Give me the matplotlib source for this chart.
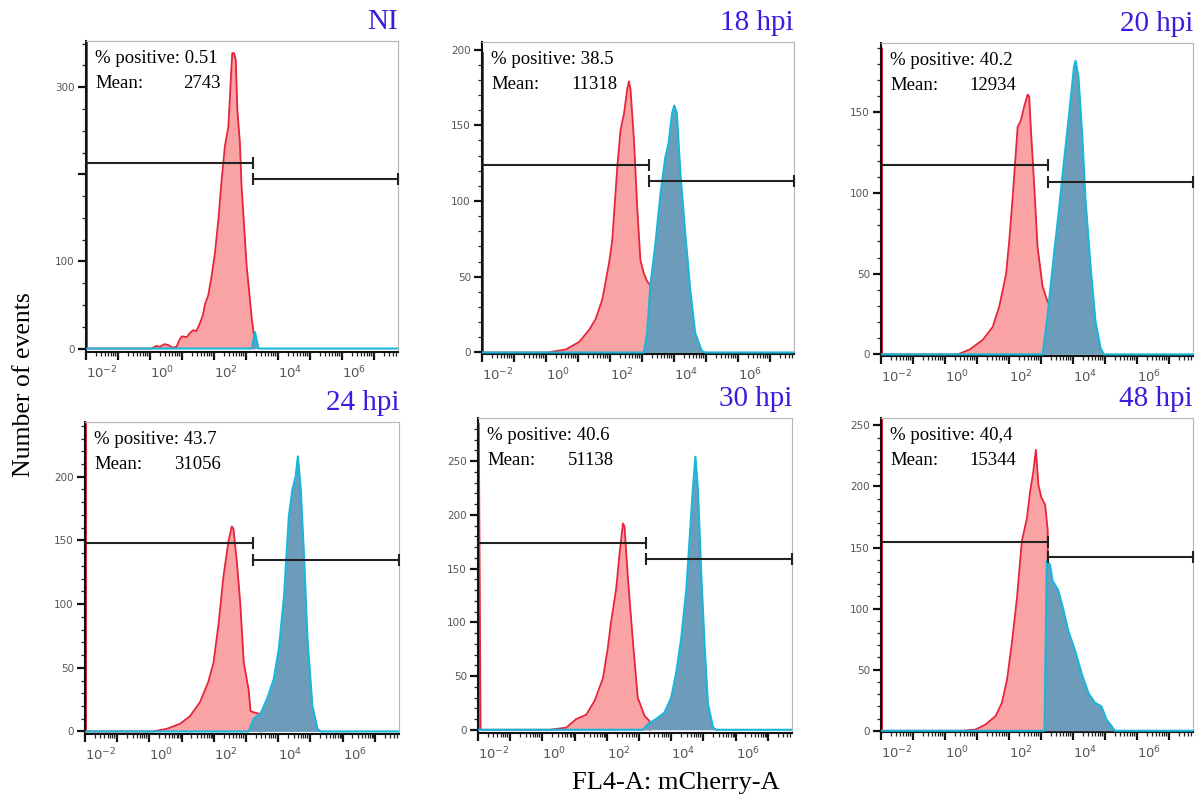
import numpy as np
import matplotlib
matplotlib.use('Agg')
import matplotlib.pyplot as plt

# panel names and summary stats
titles = ['NI', '18 hpi', '20 hpi', '24 hpi', '30 hpi', '48 hpi']
pct_positive = ['0.51', '38.5', '40.2', '43.7', '40.6', '40,4']
mean_values = ['2743', '11318', '12934', '31056', '51138', '15344']

# histograms: x is log10(FL4-A), y is number of events
red_x = [
    [-1.99, -1.98, -1.97, 0.05, 0.2, 0.31, 0.45, 0.57, 0.7, 0.83, 0.92, 1.0, 1.15, 1.25, 1.35, 1.45,
     1.56, 1.65, 1.72, 1.82, 1.93, 2.03, 2.14, 2.24, 2.34, 2.45, 2.52, 2.57, 2.63, 2.68, 2.73, 2.81,
     2.86, 2.94, 3.02, 3.10, 3.18, 3.25, 3.26],
    [-1.99, -1.98, -1.97, 0.05, 0.62, 1.04, 1.35, 1.55, 1.76, 1.97, 2.07, 2.23, 2.33, 2.44, 2.54, 2.59,
     2.64, 2.75, 2.85, 2.95, 3.06, 3.16, 3.23, 3.30, 3.31],
    [-1.99, -1.98, -1.97, 0.40, 0.77, 1.18, 1.49, 1.70, 1.91, 2.01, 2.11, 2.27, 2.37, 2.48, 2.58, 2.63,
     2.68, 2.79, 2.89, 3.05, 3.20, 3.30, 3.31],
    [-1.99, -1.98, -1.97, 0.11, 0.53, 0.95, 1.26, 1.57, 1.83, 1.99, 2.15, 2.30, 2.46, 2.56, 2.61, 2.72,
     2.82, 2.93, 3.08, 3.14, 3.24, 3.40, 3.45, 3.46],
    [-1.99, -1.975, -1.92, 0.22, 0.74, 1.05, 1.36, 1.62, 1.88, 2.03, 2.13, 2.29, 2.39, 2.50, 2.55, 2.65,
     2.81, 2.96, 3.17, 3.33, 3.34],
    [-1.99, -1.98, -1.97, 0.54, 0.95, 1.26, 1.58, 1.78, 1.94, 2.09, 2.25, 2.40, 2.56, 2.66, 2.76, 2.84,
     2.92, 3.01, 3.13, 3.21, 3.22],
]
red_y = [
    [0, 360, 0, 0, 3, 2, 5, 4, 1, 2, 10, 14, 13, 18, 21, 20, 29, 38, 51, 61, 84, 110, 149, 194, 232,
     255, 305, 339, 339, 331, 274, 236, 187, 141, 95, 65, 34, 15, 0],
    [0, 198, 0, 0, 2, 7, 15, 22, 35, 59, 74, 123, 147, 158, 174, 179, 174, 140, 96, 61, 52, 47, 45, 44, 0],
    [0, 190, 0, 0, 3, 9, 17, 30, 50, 71, 96, 141, 145, 154, 161, 160, 141, 104, 67, 42, 33, 30, 0],
    [0, 245, 0, 0, 2, 6, 12, 23, 39, 54, 85, 122, 150, 161, 159, 132, 101, 54, 33, 16, 15, 14, 12, 0],
    [0, 285, 0, 0, 2, 10, 14, 27, 48, 76, 100, 131, 162, 192, 189, 143, 82, 30, 13, 8, 0],
    [0, 256, 0, 0, 1, 5, 12, 23, 42, 72, 109, 155, 174, 196, 212, 230, 201, 191, 185, 164, 0],
]
blue_x = [
    [3.18, 3.28, 3.39],
    [3.06, 3.16, 3.26, 3.42, 3.58, 3.73, 3.83, 3.94, 4.01, 4.09, 4.20, 4.35, 4.51, 4.66, 4.87, 4.97],
    [3.05, 3.20, 3.31, 3.41, 3.56, 3.72, 3.88, 4.03, 4.08, 4.17, 4.29, 4.39, 4.55, 4.70, 4.86, 4.96],
    [3.08, 3.24, 3.45, 3.66, 3.86, 4.02, 4.18, 4.33, 4.44, 4.54, 4.61, 4.70, 4.80, 4.91, 5.06, 5.22, 5.32],
    [3.12, 3.27, 3.53, 3.79, 4.00, 4.16, 4.31, 4.47, 4.57, 4.67, 4.75, 4.83, 4.93, 5.04, 5.14, 5.30, 5.40],
    [3.11, 3.18, 3.28, 3.36, 3.54, 3.70, 3.85, 4.06, 4.27, 4.48, 4.68, 4.89, 5.05, 5.20, 5.31],
]
blue_y = [
    [0, 19, 0],
    [0, 13, 44, 72, 105, 129, 138, 158, 163, 158, 118, 79, 41, 13, 1, 0],
    [0, 23, 44, 63, 89, 120, 149, 178, 182, 172, 135, 96, 54, 21, 4, 0],
    [0, 10, 14, 26, 41, 65, 106, 169, 190, 200, 216, 190, 138, 72, 20, 2, 0],
    [0, 5, 10, 16, 30, 54, 85, 131, 177, 223, 254, 223, 146, 76, 24, 2, 0],
    [0, 139, 136, 123, 115, 99, 82, 66, 47, 31, 23, 20, 9, 4, 0],
]

# marker gates (log10 split point, height of negative / positive gate)
gate_split = 3.23
gate_neg_y = [213, 124, 117.5, 147.6, 174, 154.5]
gate_pos_y = [195, 113, 107, 134.5, 159, 142]

# y axis ticks
y_ticks = [[0, 100, 200, 300], [0, 50, 100, 150, 200], [0, 50, 100, 150],
           [0, 50, 100, 150, 200], [0, 50, 100, 150, 200, 250], [0, 50, 100, 150, 200, 250]]
y_tick_labels = [['0', '100', '', '300'], None, None, None, None, None]
y_minor = [25, 10, 10, 10, 10, 10]
y_lims = [(-4, 353), (-1, 205), (-1, 193), (-2, 243), (-3, 290), (-1, 256)]
x_lims = (-2.0, 7.75)

# axes boxes in pixels: left, top, width, height
W, H = 1197, 805
boxes = [(86, 41, 312, 311), (482, 42, 312, 312), (881, 43, 312, 313),
         (85, 422, 314, 312), (478, 418, 314, 315), (881, 418, 312, 314)]

serif = ['Liberation Serif', 'DejaVu Serif']
red_fill, red_edge = '#f9a3a5', '#e8243a'
blue_fill, blue_edge = '#6c9cba', '#19b6da'

fig = plt.figure(figsize=(W / 100, H / 100), dpi=100)

for i in range(6):
    l, t, w, h = boxes[i]
    ax = fig.add_axes([l / W, 1 - (t + h) / H, w / W, h / H])
    ax.set_xscale('log')

    rx = 10 ** np.array(red_x[i])
    ry = np.array(red_y[i])
    ax.fill_between(rx, ry, color=red_fill, lw=0, zorder=1)
    ax.plot(rx, ry, color=red_edge, lw=1.3, zorder=2)

    bx = 10 ** np.array([x_lims[0]] + blue_x[i] + [x_lims[1]])
    by = np.array([0] + blue_y[i] + [0])
    ax.fill_between(bx, by, color=blue_fill, lw=0, zorder=3)
    ax.plot(bx, by, color=blue_edge, lw=1.5, zorder=4)

    # gates
    g = 10 ** gate_split
    ax.plot([10 ** x_lims[0], g], [gate_neg_y[i]] * 2, color='#222222', lw=1.5,
            marker='|', ms=9, mew=1.5, markevery=[1], zorder=5, clip_on=False)
    ax.plot([g, 10 ** x_lims[1]], [gate_pos_y[i]] * 2, color='#222222', lw=1.5,
            marker='|', ms=9, mew=1.5, zorder=5, clip_on=False)

    ax.set_xlim(10 ** x_lims[0], 10 ** x_lims[1])
    ax.set_ylim(*y_lims[i])

    # x ticks: every decade, labels on even ones
    decades = np.arange(-2, 8)
    ax.set_xticks(10.0 ** decades)
    ax.set_xticklabels([f'$10^{{{d}}}$' if d % 2 == 0 else '' for d in decades], ha='left')
    ax.set_xticks([10.0 ** d * s for d in range(-2, 8) for s in range(2, 10)
                   if 10.0 ** d * s < 10 ** x_lims[1]], minor=True)
    ax.set_yticks(y_ticks[i])
    if y_tick_labels[i] is not None:
        ax.set_yticklabels(y_tick_labels[i])
    ax.set_yticks(np.arange(0, y_lims[i][1], y_minor[i]), minor=True)

    ax.tick_params(which='major', length=6, width=1.6, color='#111111', labelsize=7.5,
                   labelcolor='#555555', pad=2)
    ax.tick_params(axis='x', which='major', labelsize=9.5, pad=3)
    ax.tick_params(which='minor', length=3, width=0.9, color='#222222')
    for s in ['top', 'right']:
        ax.spines[s].set_color('#b5b5b5')
        ax.spines[s].set_linewidth(0.8)
    for s in ['left', 'bottom']:
        ax.spines[s].set_color('#111111')
        ax.spines[s].set_linewidth(1.5)

    ax.text(0.029, 0.93, '% positive: ' + pct_positive[i], transform=ax.transAxes,
            family=serif, fontsize=13.5, va='baseline', ha='left')
    ax.text(0.029, 0.85, 'Mean:', transform=ax.transAxes,
            family=serif, fontsize=13.5, va='baseline', ha='left')
    ax.text(0.433, 0.85, mean_values[i], transform=ax.transAxes,
            family=serif, fontsize=13.5, va='baseline', ha='right')

    ax.text(1.0, 1.02, titles[i], transform=ax.transAxes, family=serif, fontsize=21,
            color='#3a1be0', ha='right', va='bottom')

fig.text(0.020, 0.522, 'Number of events', rotation=90, family=serif, fontsize=18.5,
         ha='center', va='center')
fig.text(0.565, 0.027, 'FL4-A: mCherry-A', family=serif, fontsize=19,
         ha='center', va='center')

fig.savefig('out.png', dpi=100)
